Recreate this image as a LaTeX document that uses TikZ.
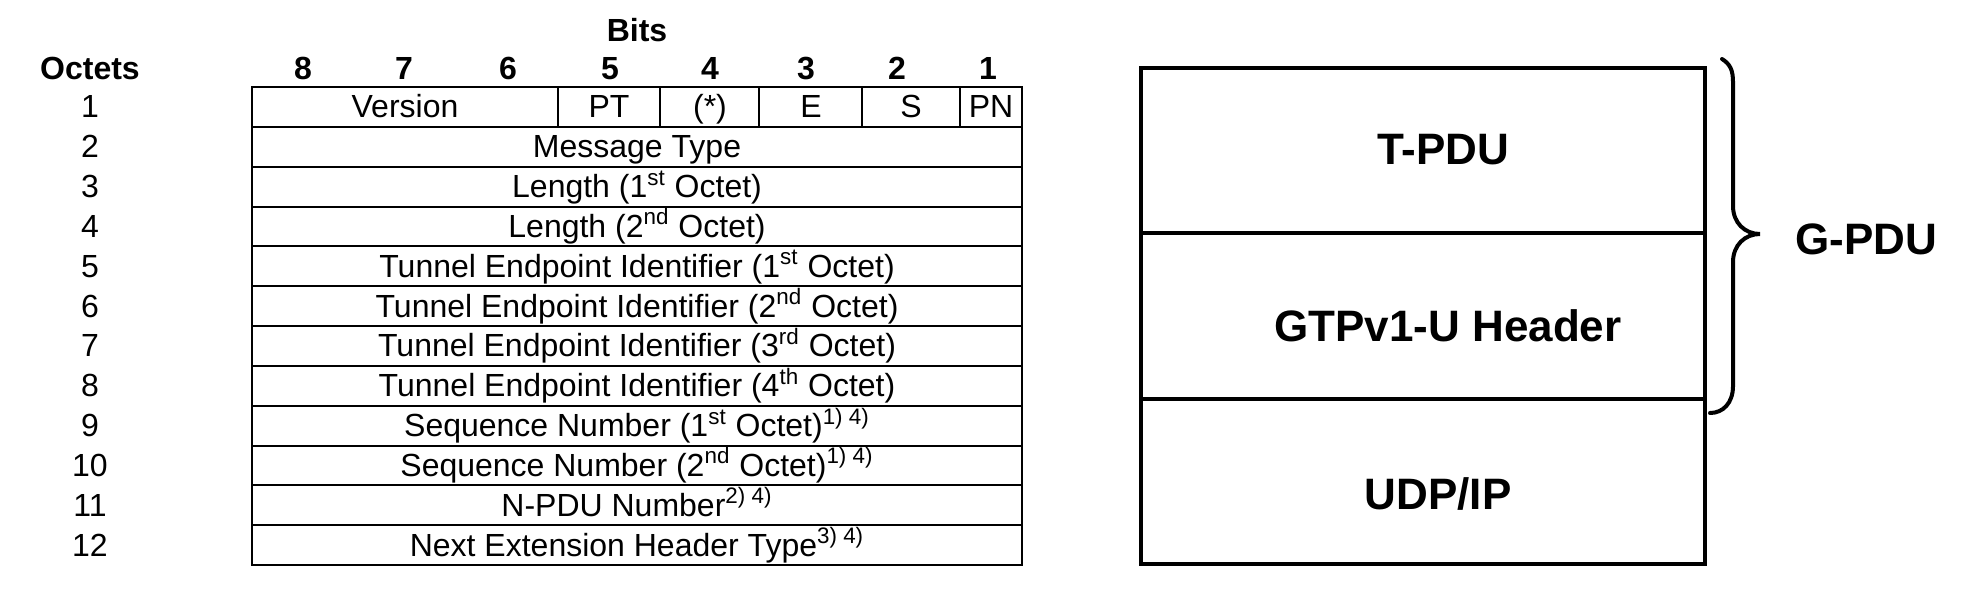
\documentclass[tikz,border=0pt]{standalone}
\usepackage{fontspec}
\setmainfont{Liberation Sans}
\begin{document}
\begin{tikzpicture}[x=0.5pt,y=-0.5pt,
  tbl/.style={line width=1pt},
  tx/.style={anchor=base,inner sep=0pt,font=\fontsize{16pt}{18pt}\selectfont},
  hd/.style={anchor=base,inner sep=0pt,font=\fontsize{16pt}{18pt}\selectfont\bfseries},
  big/.style={anchor=base,inner sep=0pt,font=\fontsize{22pt}{24pt}\selectfont\bfseries},
  boxline/.style={line width=2pt}]
\useasboundingbox (0,0) rectangle (1968,600);
\def\rh{39.833}
\def\bo{11}
% table outline and rows
\draw[tbl] (252,87) rectangle (1022,565);
\foreach \i in {1,...,11} \draw[tbl] (252,{87+\i*\rh}) -- (1022,{87+\i*\rh});
\foreach \x in {558,660,759,862,960} \draw[tbl] (\x,87) -- (\x,{87+\rh});
% headers
\node[hd] (bits) at (637,41) {Bits};
\node[hd] (octh) at (90,79) {Octets};
\foreach \x/\b in {303/8,404/7,508/6,610/5,710/4,806/3,897/2,988/1}
  \node[hd] (b\b) at (\x,79) {\b};
% octet numbers
\foreach \i in {1,...,12}
  \node[tx] (o\i) at (90,{87+(\i-0.5)*\rh+\bo}) {\i};
% row 1 fields
\node[tx] (ver) at (405,{87+0.5*\rh+\bo}) {Version};
\node[tx] (pt) at (609,{87+0.5*\rh+\bo}) {PT};
\node[tx] (res) at (710,{87+0.5*\rh+\bo}) {(*)};
\node[tx] (e) at (811,{87+0.5*\rh+\bo}) {E};
\node[tx] (s) at (911,{87+0.5*\rh+\bo}) {S};
\node[tx] (pn) at (991,{87+0.5*\rh+\bo}) {PN};
% rows 2-12
\node[tx] (r2) at (637,{87+1.5*\rh+\bo}) {Message Type};
\node[tx] (r3) at (637,{87+2.5*\rh+\bo}) {Length (1\textsuperscript{st} Octet)};
\node[tx] (r4) at (637,{87+3.5*\rh+\bo}) {Length (2\textsuperscript{nd} Octet)};
\node[tx] (r5) at (637,{87+4.5*\rh+\bo}) {Tunnel Endpoint Identifier (1\textsuperscript{st} Octet)};
\node[tx] (r6) at (637,{87+5.5*\rh+\bo}) {Tunnel Endpoint Identifier (2\textsuperscript{nd} Octet)};
\node[tx] (r7) at (637,{87+6.5*\rh+\bo}) {Tunnel Endpoint Identifier (3\textsuperscript{rd} Octet)};
\node[tx] (r8) at (637,{87+7.5*\rh+\bo}) {Tunnel Endpoint Identifier (4\textsuperscript{th} Octet)};
\node[tx] (r9) at (637,{87+8.5*\rh+\bo}) {Sequence Number (1\textsuperscript{st} Octet)\textsuperscript{1) 4)}};
\node[tx] (r10) at (637,{87+9.5*\rh+\bo}) {Sequence Number (2\textsuperscript{nd} Octet)\textsuperscript{1) 4)}};
\node[tx] (r11) at (637,{87+10.5*\rh+\bo}) {N-PDU Number\textsuperscript{2) 4)}};
\node[tx] (r12) at (637,{87+11.5*\rh+\bo}) {Next Extension Header Type\textsuperscript{3) 4)}};
% right stack
\draw[boxline] (1141,68) rectangle (1705,564);
\draw[boxline] (1141,233) -- (1705,233);
\draw[boxline] (1141,399) -- (1705,399);
\node[big] (tpdu) at (1443,164) {T-PDU};
\node[big] (gtp) at (1448,341) {GTPv1-U Header};
\node[big] (udp) at (1438,509) {UDP/IP};
% brace
\coordinate (bt) at (1722,59);
\coordinate (bm) at (1760,234);
\coordinate (bb) at (1710,413);
\draw[line width=2pt,line cap=round] (bt) .. controls (1730,64) and (1733,70) .. (1733,82)
  -- (1733,206) .. controls (1733,223) and (1745,234) .. (bm)
  .. controls (1745,234) and (1733,245) .. (1733,262)
  -- (1733,386) .. controls (1733,403) and (1723,413) .. (bb);
\node[big] (gpdu) at (1866,254) {G-PDU};
\end{tikzpicture}
\end{document}
